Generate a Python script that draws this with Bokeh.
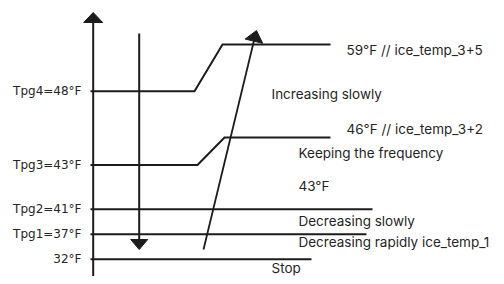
from bokeh.plotting import figure
from bokeh.models import Range1d
from bokeh.core.properties import value
from bokeh.embed import file_html
from bokeh.resources import INLINE
import math

# ---- content (values / texts) ----
threshold_labels = ["Tpg4=48°F", "Tpg3=43°F", "Tpg2=41°F", "Tpg1=37°F", "32°F"]
upper_labels = ["59°F // ice_temp_3+5", "46°F // ice_temp_3+2"]
zone_labels = ["Increasing slowly", "Keeping the frequency", "43°F",
               "Decreasing slowly", "Decreasing rapidly ice_temp_1", "Stop"]

# ---- layout (diagram coordinates, y grows downward) ----
thr_y = [90.7, 164.5, 208.7, 233.7, 258.7]
thr_x_end = [194, 197, 372, 366, 311]
upper_y = [44, 137]
upper_x_start = [222, 224]
upper_x_end = [330, 330]
upper_text_y = [49, 128]
zone_x = [271, 298, 298, 298, 298, 271]
zone_y = [93, 152, 185, 220, 241, 267]

INK = "#1c1c1c"
TXT = "#262626"

W, H = 496, 276
p = figure(width=W, height=H, output_backend="svg", toolbar_location=None,
           x_range=Range1d(0, W), y_range=Range1d(H, 0),
           min_border=0)
p.axis.visible = False
p.grid.visible = False
p.outline_line_color = None
p.background_fill_color = "white"
p.border_fill_color = "white"

LW = 2
AXIS_X = 92.7
LINE_X0 = 90
X2 = 138.7

# main vertical axis
p.line([AXIS_X, AXIS_X], [300, 21], line_color=INK, line_width=LW)
# second vertical (downward arrow)
p.line([X2, X2], [33, 240], line_color=INK, line_width=LW)
# rising arrow shaft
p.line([203, 254], [249, 38], line_color=INK, line_width=1.8)


def head(tip, tail, length, half_w):
    dx, dy = tip[0] - tail[0], tip[1] - tail[1]
    d = math.hypot(dx, dy)
    ux, uy = dx / d, dy / d
    bx, by = tip[0] - ux * length, tip[1] - uy * length
    nx, ny = -uy, ux
    return ([tip[0], bx + nx * half_w, bx - nx * half_w],
            [tip[1], by + ny * half_w, by - ny * half_w])


heads_x, heads_y = [], []
for tip, tail, L, hw in [((AXIS_X, 12), (AXIS_X, 100), 10, 9.5),
                         ((X2, 249), (X2, 100), 10, 8.5),
                         ((256, 30), (203, 249), 11, 9)]:
    hx, hy = head(tip, tail, L, hw)
    heads_x.append(hx)
    heads_y.append(hy)
p.patches(heads_x, heads_y, fill_color=INK, line_color=INK, line_width=1)

# threshold lines
for i, y in enumerate(thr_y):
    if i < 2:
        xs = [LINE_X0, thr_x_end[i], upper_x_start[i], upper_x_end[i]]
        ys = [y, y, upper_y[i], upper_y[i]]
    else:
        xs = [LINE_X0, thr_x_end[i]]
        ys = [y, y]
    p.line(xs, ys, line_color=INK, line_width=LW, line_join="miter")

# left labels
p.text(x=[81] * len(threshold_labels), y=thr_y, text=threshold_labels,
       text_align="right", text_baseline="middle",
       text_font=value("DejaVu Sans"), text_font_size="12px", text_color=TXT)

# upper labels
p.text(x=[346] * len(upper_labels), y=upper_text_y, text=upper_labels,
       text_align="left", text_baseline="middle",
       text_font=value("Inter"), text_font_size="13.5px", text_color=TXT)

# zone labels
p.text(x=zone_x, y=zone_y, text=zone_labels,
       text_align="left", text_baseline="middle",
       text_font=value("Inter"), text_font_size="13.5px", text_color=TXT)

open("out.html", "w").write(file_html(p, INLINE))
